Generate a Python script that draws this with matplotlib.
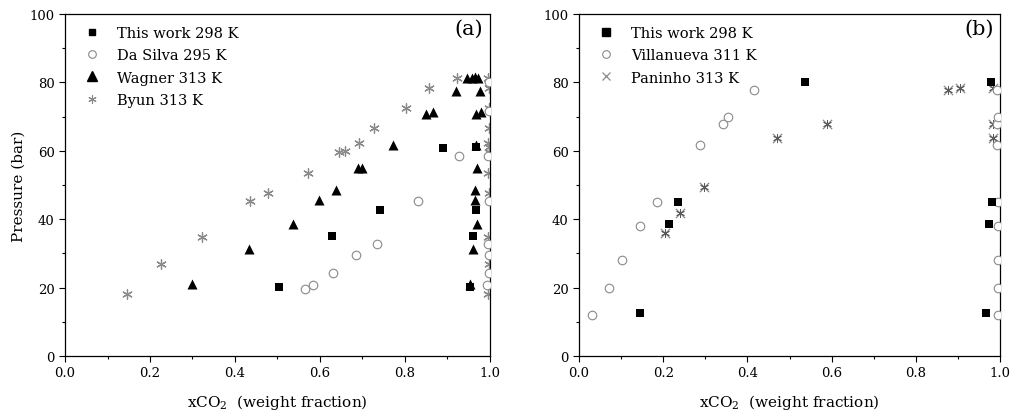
import matplotlib
matplotlib.use("Agg")
import matplotlib.pyplot as plt
from matplotlib.lines import Line2D
import numpy as np

plt.rcParams['font.family'] = ['DejaVu Serif']
plt.rcParams['mathtext.fontset'] = 'dejavuserif'

# ---------------- Panel (a) data ----------------
a_this_x = [0.504, 0.629, 0.741, 0.889, 0.953, 0.961, 0.967, 0.967]
a_this_y = [20.3, 35.2, 42.6, 60.9, 20.3, 35.2, 42.6, 61.2]

a_dasilva_x = [0.566, 0.584, 0.631, 0.685, 0.735, 0.831, 0.928,
               0.994, 0.997, 0.997, 0.996, 0.997, 0.996, 0.998, 0.998]
a_dasilva_y = [19.5, 20.9, 24.4, 29.6, 32.8, 45.2, 58.4,
               20.9, 24.4, 29.6, 32.8, 45.2, 58.4, 71.7, 80.0]

a_wagner_x = [0.300, 0.432, 0.537, 0.598, 0.639, 0.689, 0.700, 0.771, 0.849, 0.867,
              0.920, 0.947, 0.957, 0.965, 0.973, 0.976, 0.967, 0.978, 0.967, 0.969,
              0.965, 0.965, 0.969, 0.961, 0.953]
a_wagner_y = [21.1, 31.4, 38.5, 45.5, 48.5, 55.1, 54.9, 61.7, 70.8, 71.3,
              77.4, 81.2, 81.4, 81.6, 81.2, 77.4, 70.8, 71.4, 61.7, 55.0,
              48.5, 45.5, 38.5, 31.4, 21.1]

a_byun_x = [0.145, 0.225, 0.323, 0.435, 0.478, 0.571, 0.645, 0.659, 0.691, 0.727,
            0.802, 0.857, 0.922,
            0.995, 0.997, 0.996, 0.997, 0.996, 0.997, 0.996, 0.997, 0.997, 0.998,
            0.996, 0.997]
a_byun_y = [18.0, 26.8, 34.7, 45.4, 47.8, 53.5, 59.7, 59.9, 62.4, 66.7,
            72.6, 78.4, 81.4,
            18.0, 26.8, 34.7, 47.8, 53.5, 59.7, 62.4, 66.7, 72.6, 78.4,
            81.4, 61.0]

# ---------------- Panel (b) data ----------------
b_this_x = [0.145, 0.214, 0.234, 0.536, 0.967, 0.974, 0.980, 0.979]
b_this_y = [12.5, 38.7, 44.9, 80.0, 12.5, 38.7, 44.9, 80.0]

b_villa_x = [0.030, 0.072, 0.101, 0.146, 0.186, 0.287, 0.341, 0.353, 0.416,
             0.996, 0.996, 0.996, 0.995, 0.995, 0.994, 0.994, 0.995, 0.994]
b_villa_y = [12.1, 20.0, 28.0, 38.0, 45.1, 61.7, 67.7, 69.8, 77.8,
             12.1, 20.0, 28.0, 38.0, 45.1, 61.7, 67.7, 69.8, 77.8]

b_paninho_x = [0.204, 0.240, 0.297, 0.470, 0.588, 0.876, 0.905, 0.984, 0.984, 0.984]
b_paninho_y = [36.0, 41.9, 49.5, 63.6, 67.8, 77.8, 78.3, 78.4, 67.8, 63.6]

fig = plt.figure(figsize=(10.10, 4.14), dpi=100)
ax1 = fig.add_axes([0.0644, 0.1377, 0.4206, 0.8261])
ax2 = fig.add_axes([0.5733, 0.1377, 0.4168, 0.8261])

star = (6, 2, 0)
gray = '#8a8a8a'
dgray = '#5a5a5a'

# Panel (a)
ax1.scatter(a_byun_x, a_byun_y, marker=star, s=48, c=gray, linewidths=0.9, zorder=2)
ax1.scatter(a_dasilva_x, a_dasilva_y, marker='o', s=38, facecolors='white',
            edgecolors=gray, linewidths=0.8, zorder=3)
ax1.scatter(a_wagner_x, a_wagner_y, marker='^', s=52, c='black', linewidths=0, zorder=4)
ax1.scatter(a_this_x, a_this_y, marker='s', s=32, c='black', linewidths=0, zorder=5)

h_a = [Line2D([], [], ls='none', marker='s', ms=5, color='black'),
       Line2D([], [], ls='none', marker='o', ms=5.5, mfc='white', mec=gray, mew=0.8),
       Line2D([], [], ls='none', marker='^', ms=7, color='black'),
       Line2D([], [], ls='none', marker=star, ms=6, color=gray, mew=0.8)]
ax1.legend(h_a, ['This work 298 K', 'Da Silva 295 K', 'Wagner 313 K', 'Byun 313 K'],
           loc='upper left', frameon=False, fontsize=10.5, handlelength=1.0,
           handletextpad=1.2, labelspacing=0.58, borderaxespad=0.4,
           bbox_to_anchor=(0.02, 1.0))
ax1.text(0.985, 0.985, '(a)', transform=ax1.transAxes, ha='right', va='top', fontsize=15)

# Panel (b)
ax2.scatter(b_villa_x, b_villa_y, marker='o', s=38, facecolors='white',
            edgecolors=gray, linewidths=0.8, zorder=3)
ax2.scatter(b_paninho_x, b_paninho_y, marker='x', s=45, c=gray, linewidths=0.9, zorder=2)
ax2.scatter(b_paninho_x, b_paninho_y, marker=star, s=35, c=dgray, linewidths=0.6, zorder=2)
ax2.scatter(b_this_x, b_this_y, marker='s', s=40, c='black', linewidths=0, zorder=5)

h_b = [Line2D([], [], ls='none', marker='s', ms=5.5, color='black'),
       Line2D([], [], ls='none', marker='o', ms=5.5, mfc='white', mec=gray, mew=0.8),
       Line2D([], [], ls='none', marker='x', ms=6, color=gray, mew=0.9)]
ax2.legend(h_b, ['This work 298 K', 'Villanueva 311 K', 'Paninho 313 K'],
           loc='upper left', frameon=False, fontsize=10.5, handlelength=1.0,
           handletextpad=1.2, labelspacing=0.58, borderaxespad=0.4,
           bbox_to_anchor=(0.02, 1.0))
ax2.text(0.985, 0.985, '(b)', transform=ax2.transAxes, ha='right', va='top', fontsize=15)

for ax in (ax1, ax2):
    ax.set_xlim(0, 1.0)
    ax.set_ylim(0, 100)
    ax.set_xticks(np.arange(0, 1.01, 0.2))
    ax.set_xticks(np.arange(0.1, 1.0, 0.2), minor=True)
    ax.set_yticks(np.arange(0, 101, 20))
    ax.set_yticks(np.arange(10, 100, 20), minor=True)
    ax.set_xticklabels(['0.0', '0.2', '0.4', '0.6', '0.8', '1.0'])
    ax.tick_params(which='major', direction='out', length=4, width=0.8, labelsize=9.5,
                   top=False, right=False)
    ax.tick_params(which='minor', direction='out', length=2.5, width=0.8,
                   top=False, right=False)
    for s in ax.spines.values():
        s.set_linewidth(0.9)
    ax.set_xlabel(r'xCO$_2$  (weight fraction)', fontsize=11, labelpad=9)
ax1.set_ylabel('Pressure (bar)', fontsize=11, labelpad=3)

fig.savefig('out.png', dpi=100)
